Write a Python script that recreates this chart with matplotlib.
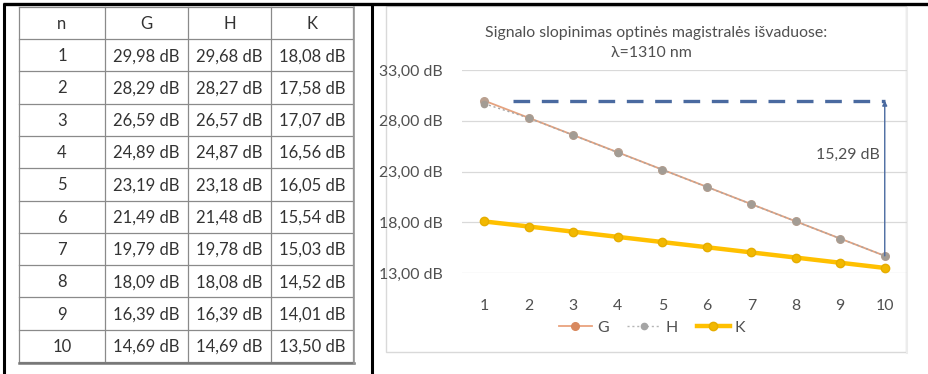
import matplotlib
matplotlib.use("Agg")
import matplotlib.pyplot as plt
from matplotlib.lines import Line2D
from matplotlib.patches import Rectangle

plt.rcParams['font.family'] = ['Lato', 'DejaVu Sans']

# ---- data ----
n_values = [1, 2, 3, 4, 5, 6, 7, 8, 9, 10]
series_names = ["G", "H", "K"]
G = [29.98, 28.29, 26.59, 24.89, 23.19, 21.49, 19.79, 18.09, 16.39, 14.69]
H = [29.68, 28.27, 26.57, 24.87, 23.18, 21.48, 19.78, 18.08, 16.39, 14.69]
K = [18.08, 17.58, 17.07, 16.56, 16.05, 15.54, 15.03, 14.52, 14.01, 13.50]
y_ticks = [13, 18, 23, 28, 33]
title_lines = ["Signalo slopinimas optinės magistralės išvaduose:", "λ=1310 nm"]


def fmt_db(v):
    return f"{v:.2f}".replace(".", ",") + " dB"


W, H_PX = 929, 374
fig = plt.figure(figsize=(W / 100, H_PX / 100), dpi=100)
fig.patch.set_facecolor("white")

# full-figure canvas in pixel coordinates for the page frame and the table
bg = fig.add_axes([0, 0, 1, 1])
bg.set_xlim(0, W)
bg.set_ylim(H_PX, 0)
bg.axis("off")

# page cell frame
bg.plot([3, W], [4, 4], color="black", lw=2.4, solid_capstyle="butt")
bg.plot([4.5, 4.5], [3, H_PX], color="black", lw=2.2, solid_capstyle="butt")
bg.plot([372, 372], [3, H_PX], color="black", lw=2.2, solid_capstyle="butt")

# table grid
col_edges = [19, 105, 188, 271, 353]
top, header_bottom, bottom = 7, 39, 362
row_h = (bottom - header_bottom) / len(n_values)
row_edges = [top, header_bottom] + [header_bottom + row_h * (i + 1) for i in range(len(n_values))]
grid_color = "#8a8a8a"
for x in col_edges:
    bg.plot([x, x], [top, bottom], color=grid_color, lw=0.9)
for y in row_edges:
    bg.plot([col_edges[0], col_edges[-1]], [y, y], color=grid_color, lw=0.9)
# soft shadow on the bottom and right edge
bg.plot([col_edges[0], col_edges[-1] + 1.5], [bottom + 1.2, bottom + 1.2], color="#777777", lw=1.8)
bg.plot([col_edges[-1] + 1.2, col_edges[-1] + 1.2], [top, bottom + 1.5], color="#999999", lw=1.2)

txt_color = "#333333"
headers = ["n"] + series_names
centers_x = [(col_edges[i] + col_edges[i + 1]) / 2 for i in range(4)]
for cx, h in zip(centers_x, headers):
    bg.text(cx, (top + header_bottom) / 2 + 1, h, ha="center", va="center",
            fontsize=12, color=txt_color)
for i, n in enumerate(n_values):
    cy = (row_edges[i + 1] + row_edges[i + 2]) / 2 + 1
    cells = [str(n), fmt_db(G[i]), fmt_db(H[i]), fmt_db(K[i])]
    for cx, c in zip(centers_x, cells):
        bg.text(cx, cy, c, ha="center", va="center", fontsize=12, color=txt_color)

# chart frame
bg.add_patch(Rectangle((386, 6), 520, 346, fill=False, edgecolor="#d9d9d9", lw=1.0))
bg.plot([907.5, 907.5], [8, 353], color="#ececec", lw=1.5)

# title
chart_txt = "#505050"
bg.text(656, 33, title_lines[0], ha="center", va="center", fontsize=11.4, color=chart_txt)
bg.text(651, 53, title_lines[1], ha="center", va="center", fontsize=11.4, color=chart_txt)

# ---- chart ----
left, right, ytop, ybot = 462, 907, 70, 273
ax = fig.add_axes([left / W, 1 - ybot / H_PX, (right - left) / W, (ybot - ytop) / H_PX])
ax.set_facecolor("none")
ax.set_xlim(0.5, 10.5)
ax.set_ylim(13, 33)
for s in ax.spines.values():
    s.set_visible(False)
ax.set_yticks(y_ticks)
ax.set_yticklabels([fmt_db(v) for v in y_ticks])
ax.set_xticks(n_values)
ax.set_xticklabels([str(n) for n in n_values])
ax.tick_params(axis="both", length=0, labelsize=11.4, colors=chart_txt)
ax.tick_params(axis="y", pad=14)
ax.tick_params(axis="x", pad=19)
ax.grid(axis="y", color="#d9d9d9", lw=0.9)
ax.set_axisbelow(True)

ax.plot(n_values, G, color="#e5a27f", lw=1.3, marker="o", ms=5.5,
        markerfacecolor="#b9a090", markeredgecolor="#b9a090", zorder=3)
ax.plot(n_values, H, color="#a5a5a5", lw=1.0, ls=(0, (1.5, 2)), marker="o", ms=4.5,
        markerfacecolor="#a39c94", markeredgecolor="#a39c94", zorder=4)
ax.plot(n_values, K, color="#ffc000", lw=3.2, marker="o", ms=6,
        markerfacecolor="#f2b800", markeredgecolor="#e6ad00", zorder=5)

# attenuation span from n=1 to n=10
span = G[0] - G[-1]
ax.plot([1.65, n_values[-1]], [G[0], G[0]], color="#4a6aa0", lw=2.4,
        ls=(0, (5, 3.5)), zorder=6)
ax.annotate("", xy=(n_values[-1], G[0]), xytext=(n_values[-1], G[-1]),
            arrowprops=dict(arrowstyle="-|>", color="#4a6aa0", lw=1.0,
                            mutation_scale=7, shrinkA=0, shrinkB=0), zorder=7)
ax.text(9.17, 24.6, fmt_db(span), ha="center", va="center", fontsize=11.4, color=chart_txt)

# legend
handles = [
    Line2D([], [], color="#e9a37e", lw=1.3, marker="o", ms=5.5,
           markerfacecolor="#d8895f", markeredgecolor="#d8895f"),
    Line2D([], [], color="#b5b5b5", lw=1.0, ls=(0, (1.5, 2)), marker="o", ms=4.5,
           markerfacecolor="#a5a5a5", markeredgecolor="#a5a5a5"),
    Line2D([], [], color="#ffc000", lw=3.2, marker="o", ms=6,
           markerfacecolor="#f2b800", markeredgecolor="#e6ad00"),
]
fig.legend(handles, series_names, loc="center", bbox_to_anchor=(652 / W, 1 - 328 / H_PX),
           ncol=3, frameon=False, fontsize=11.4, handlelength=2.1, columnspacing=1.2,
           handletextpad=0.3, labelcolor=chart_txt)

fig.savefig("out.png", dpi=100, facecolor="white")
